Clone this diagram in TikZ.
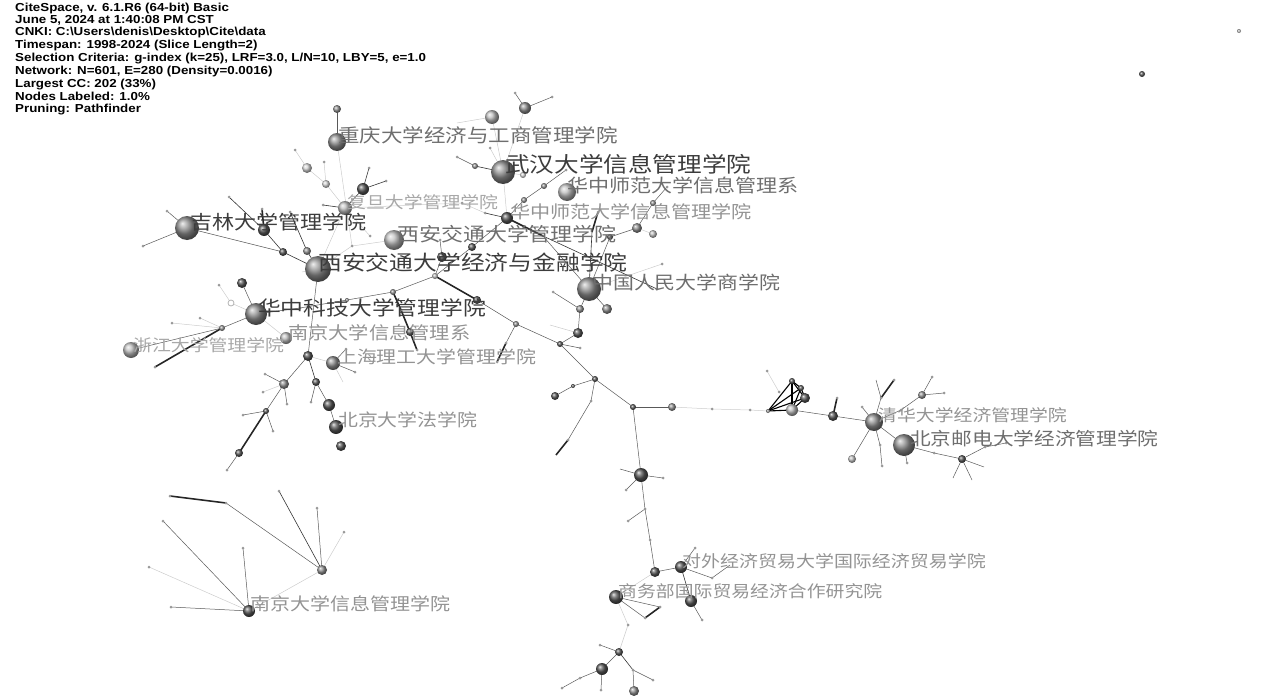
\documentclass[tikz,border=0pt]{standalone}
\usepackage{fontspec}
\newfontfamily\hdr[FakeStretch=1.15]{Liberation Sans}
\newfontfamily\cjk[FakeStretch=1.15]{Noto Sans CJK SC}
\definecolor{dg}{HTML}{585858}
\definecolor{mg}{HTML}{909090}
\definecolor{lg}{HTML}{BEBEBE}
\definecolor{vlg}{HTML}{D4D4D4}
\definecolor{tdark}{HTML}{3C3C3C}
\definecolor{tmid}{HTML}{6E6E6E}
\definecolor{tlight}{HTML}{939393}
\definecolor{tvlight}{HTML}{A8A8A8}
\tikzset{
  ed/.style={draw=gray!70!black,line width=0.5pt},
  ek/.style={draw=black!80,line width=0.6pt},
  el/.style={draw=gray!40,line width=0.5pt},
  et/.style={draw=black!85,line width=1.6pt},
  eq/.style={draw=black,line width=1.1pt},
  sph/.style={circle,inner sep=0pt,shading=ball},
  dot/.style={circle,inner sep=0pt,minimum size=3pt,fill=gray!80},
  lab/.style={anchor=west,inner sep=0pt}
}
\begin{document}
\begin{tikzpicture}[x=1pt,y=-1pt]
\useasboundingbox (0,0) rectangle (1262,696);
% positions
\foreach \n/\x/\y in {
cq/337/142, cqt/337/109, cqd/352/246,
fd/345/208, fa/307/168, fa2/295/150, fb/326/184, fb2/324/162, fc/363/189, fc1/369/168, fc2/386/181, fd1/323/205, fr/370/236,
jl/187/228, jl1/167/211, jl2/143/246, j3/283/252, j4/264/230, j5/229/197, j6/262/209, j7/307/251, j8/290/212,
xa/318/269, xal/302/272, xm/394/240,
c1/442/257, c1u/440/240, c2/435/276, c3/472/247, c4/507/218, c5/524/200, c6/544/186, c7/566/170, c8/485/213, c9/462/203,
wh/503/172, w1/475/166, w2/457/157, w3/525/108, w4/515/93, w5/552/97, w6/492/117, w7/490/148, w8/523/175, w9/457/123,
hs/567/192,
cn/589/289, n1/543/236, n2/592/232, n3/598/212, n4/610/237, n5/637/228, n6/653/234, n7/653/203, n8/667/187, n9/657/289, n10/662/264,
n11/580/309, n12/607/309, n13/578/333, n14/560/344, n15/595/379, n16/553/292, n17/580/348, n18/550/325,
hz/256/314, h1/347/300, h2/393/292, h3/300/308, h4/401/310, h5/410/332, h6/417/350,
h7/242/283, h8/231/303, h9/219/285, h11/222/328, zj/131/350, h12/172/323, h13/155/367, h14/200/318, nx/286/338,
t1/477/300, t2/516/324, t3/506/343, t4/497/362,
s1/308/356, sh/333/363, s2/346/349, s3/355/372, s4/343/382, s5/316/382, s6/311/402, s7/329/405, bd/336/427, s8/341/446,
s9/284/384, s10/265/374, s11/287/404, s12/263/392, s13/266/411, s14/243/415, s15/273/431, s16/239/453, s17/227/470,
m1/633/407, m2/672/407, m3/712/409, m4/750/410, m5/573/386, m6/555/396, m7/591/401, m8/568/440, m9/556/455,
m10/641/475, m11/663/478, m12/626/490, m13/620/469, m14/645/509, m15/628/521, m16/650/540, m17/655/572,
dw/681/567, d1/695/548, d2/712/578, d3/730/565, d4/691/601, d5/702/620,
sw/616/597, e1/660/607, e2/645/618, e3/628/625, e4/619/652, e5/600/645, e6/602/669, e7/580/678, e8/562/688, e9/601/690, e10/633/670, e11/653/680, e12/634/691,
k1/768/411, k2/792/381, k3/801/388, k4/805/398, k5/792/410, k6/767/371, k7/779/392,
q1/833/416, q2/837/398, qh/874/422, q3/862/407, q4/881/398, q5/894/380, q6/876/380, q7/901/410, q8/922/395, q9/932/377, q10/944/393, q11/852/459, q12/880/445, q13/882/466,
by/904/445, b1/907/463, b2/934/453, b3/962/459, b4/985/447, b5/1006/443, b6/984/467, b7/953/478, b8/972/480,
nj/249/611, g1/322/570, g2/170/496, g3/226/503, g4/279/491, g5/317/508, g6/344/532, g7/163/521, g8/149/567, g9/243/548, g10/171/607,
i1/1142/74, i2/1239/31}
  \coordinate (\n) at (\x,\y);
% edges
\foreach \a/\b in {jl/jl1, jl/jl2, jl/j3, xa/s1, hz/h3, h3/h1, h1/h2, h2/c2, c2/c3, c3/c4, c2/c1, c1/c1u, c5/c6, c4/c5, c6/c7, n1/cn, cn/n4, n4/n5, n5/n7, n7/n8, cn/n11, n11/n13, n13/n14, n14/n15, n11/n16, n14/n17, cn/n12, t1/t2, t2/n14, t2/t3, hz/h7, hz/h11, h11/zj, sh/s2, sh/s3, s5/s6, s5/s7, s7/bd, s1/s9, s9/s10, s9/s11, s9/s13, s13/s14, s13/s15, s16/s17, n15/m1, m1/m2, n15/m5, m5/m6, n15/m7, m7/m8, m1/m10, m10/m11, m10/m12, m10/m13, m10/m14, m14/m15, m14/m16, m16/m17, m17/dw, dw/d1, dw/d2, d2/d3, d4/d5, sw/e1, sw/e2, e4/e5, e4/e6, e6/e7, e7/e8, e6/e9, e10/e11, e10/e12, k5/q1, q1/qh, qh/q3, qh/q4, q4/q6, qh/q7, q7/q8, q8/q9, q8/q10, qh/q11, qh/q12, q12/q13, qh/by, by/b1, by/b2, b2/b3, b3/b4, b4/b5, b3/b6, b3/b7, b3/b8, g1/g3, g1/g5, nj/g7, nj/g9, nj/g10, cq/cqt, w3/w4, w3/w5, w1/w2}
  \draw[ed] (\a) -- (\b);
\foreach \a/\b in {cq/cqd, fb/fa, fa/fa2, fb/fb2, fd/fb, fd/xa, fd/fr, fd/c9, c9/c8, xa/cqd, cqd/xm, c4/wh, wh/w3, wh/w6, w6/w9, wh/w7, wh/w8, cn/n10, n13/n18, hz/h8, h8/h9, h11/h12, h11/h14, hz/nx, s1/sh, sh/s4, s9/s12, m2/m3, m3/m4, m4/k1, m17/sw, sw/e3, e3/e4, k6/k7, nj/g1, g1/g6, nj/g8, n5/n6, xa/xal}
  \draw[el] (\a) -- (\b);
\foreach \a/\b in {fd/fc, fc/fc1, fc/fc2, fd/fd1, j3/xa, j5/j4, j4/j3, j8/j7, j7/xa, c8/c4, wh/w1, n1/n9, cn/n2, dw/d4, e4/e10, s1/s5, g1/g4}
  \draw[ek] (\a) -- (\b);
\foreach \a/\b in {j6/j4, h2/h4, h4/h5, h5/h6, c4/n1, n2/n3, c2/t1, t3/t4, h11/h13, s13/s16, m8/m9, e1/e2, q1/q2, q4/q5, g3/g2}
  \draw[et] (\a) -- (\b);
\foreach \a/\b in {k1/k2, k1/k3, k1/k4, k1/k5, k2/k3, k2/k4, k2/k5, k3/k4, k3/k5, k4/k5}
  \draw[eq] (\a) -- (\b);
% small dots
\foreach \n in {fa2, fb2, fc1, fc2, fd1, fr, jl1, jl2, j5, j6, j8, c1u, c7, w2, w4, w5, w7, n3, n8, n9, n10, n16, n17, h4, h6, h9, h12, h13, h14, t3, t4, s2, s3, s6, s10, s11, s12, s14, s15, s17, m3, m4, m7, m8, m11, m12, m14, m15, m16, d1, d2, d5, e1, e2, e3, e5, e7, e8, e9, e10, e11, k6, k7, q2, q3, q4, q5, q7, q9, q10, q12, q13, b1, b2, b4, b5, g2, g3, g4, g5, g6, g7, g8, g9, g10, cqd, c8, c9, h3}
  \node[dot] (d\n) at (\n) {};
% spheres
\foreach \n/\rr/\c in {cq/9/mg, cqt/4/mg, fd/7/lg, fa/5/vlg, fb/4/vlg, fc/6/dg, jl/12/mg, j3/4/dg, j4/6/dg, j7/4/mg, xa/13/mg, xm/10/lg, c1/5/dg, c2/3/lg, c3/4/dg, c4/6/dg, c5/3/mg, c6/3/mg, wh/12/mg, w1/3/mg, w3/6/mg, w6/7/lg, w8/3/vlg, hs/9/lg, cn/12/mg, n4/3/dg, n5/5/mg, n6/4/lg, n7/3/mg, n11/4/mg, n12/5/mg, n13/5/dg, n14/3/dg, n15/3/dg, hz/11/mg, h1/2/mg, h2/3/mg, h5/4/dg, h7/5/dg, h11/3/mg, zj/8/lg, nx/6/lg, t1/4/dg, t2/3/mg, s1/5/dg, sh/7/mg, s5/4/dg, s7/6/dg, bd/7/dg, s8/5/dg, s9/5/mg, s13/3/dg, s16/4/dg, m1/3/dg, m2/4/mg, m6/4/dg, m5/2/dg, m10/7/dg, m17/5/dg, dw/6/dg, d4/6/dg, sw/7/dg, e4/4/dg, e6/6/dg, e12/5/mg, k5/6/lg, k4/5/dg, k2/3/dg, k3/3/dg, k1/2/mg, q1/5/dg, qh/9/mg, by/11/mg, q8/4/mg, q11/4/lg, b3/4/dg, nj/6/dg, g1/5/mg, i1/3/dg, i2/2/lg}
  \node[sph,minimum size=\rr*2pt,ball color=\c] (s\n) at (\n) {};
\node[circle,inner sep=0pt,minimum size=6pt,draw=gray!60,fill=white,line width=0.8pt] (sh8) at (h8) {};
% header
\node[anchor=north west,inner sep=0pt,align=left,font=\hdr\bfseries\fontsize{11.6}{10.4}\selectfont] (hdrtext) at (15,2.5) {CiteSpace, v. 6.1.R6 (64-bit) Basic\\[1.2pt]June 5, 2024 at 1:40:08 PM CST\\[1.2pt]CNKI: C:\textbackslash Users\textbackslash denis\textbackslash Desktop\textbackslash Cite\textbackslash data\\[1.2pt]Timespan: 1998-2024 (Slice Length=2)\\[1.2pt]Selection Criteria: g-index (k=25), LRF=3.0, L/N=10, LBY=5, e=1.0\\[1.2pt]Network: N=601, E=280 (Density=0.0016)\\[1.2pt]Largest CC: 202 (33\%)\\[1.2pt]Nodes Labeled: 1.0\%\\[1.2pt]Pruning: Pathfinder};
% labels
\node[lab,text=tmid,font=\cjk\fontsize{18.7}{18.7}\selectfont] (l1) at (338,135) {重庆大学经济与工商管理学院};
\node[lab,text=tvlight,font=\cjk\fontsize{16.4}{16.4}\selectfont] (l2) at (347,202) {复旦大学管理学院};
\node[lab,text=tmid,font=\cjk\fontsize{18.3}{18.3}\selectfont] (l3) at (567,185) {华中师范大学信息管理系};
\node[lab,text=tlight,font=\cjk\fontsize{17.5}{17.5}\selectfont] (l4) at (510,212) {华中师范大学信息管理学院};
\node[lab,text=tdark,font=\cjk\fontsize{21.4}{21.4}\selectfont] (l5) at (505,164) {武汉大学信息管理学院};
\node[lab,text=tdark,font=\cjk\fontsize{19.2}{19.2}\selectfont] (l6) at (190,222) {吉林大学管理学院};
\node[lab,text=tmid,font=\cjk\fontsize{19.1}{19.1}\selectfont] (l7) at (397,234) {西安交通大学管理学院};
\node[lab,text=tdark,font=\cjk\fontsize{20.7}{20.7}\selectfont] (l8) at (318,263) {西安交通大学经济与金融学院};
\node[lab,text=tmid,font=\cjk\fontsize{18.2}{18.2}\selectfont] (l9) at (592,283) {中国人民大学商学院};
\node[lab,text=tdark,font=\cjk\fontsize{19.8}{19.8}\selectfont] (l10) at (258,308) {华中科技大学管理学院};
\node[lab,text=tlight,font=\cjk\fontsize{17.6}{17.6}\selectfont] (l11) at (288,333) {南京大学信息管理系};
\node[lab,text=tvlight,font=\cjk\fontsize{16.4}{16.4}\selectfont] (l12) at (133,345) {浙江大学管理学院};
\node[lab,text=tlight,font=\cjk\fontsize{17.3}{17.3}\selectfont] (l13) at (337,357) {上海理工大学管理学院};
\node[lab,text=tlight,font=\cjk\fontsize{17.3}{17.3}\selectfont] (l14) at (338,420) {北京大学法学院};
\node[lab,text=tlight,font=\cjk\fontsize{16.4}{16.4}\selectfont] (l15) at (878,415) {清华大学经济管理学院};
\node[lab,text=tmid,font=\cjk\fontsize{18}{18}\selectfont] (l16) at (910,439) {北京邮电大学经济管理学院};
\node[lab,text=tlight,font=\cjk\fontsize{16.5}{16.5}\selectfont] (l17) at (682,561) {对外经济贸易大学国际经济贸易学院};
\node[lab,text=tlight,font=\cjk\fontsize{16.4}{16.4}\selectfont] (l18) at (618,591) {商务部国际贸易经济合作研究院};
\node[lab,text=tlight,font=\cjk\fontsize{17.4}{17.4}\selectfont] (l19) at (250,604) {南京大学信息管理学院};
\end{tikzpicture}
\end{document}
